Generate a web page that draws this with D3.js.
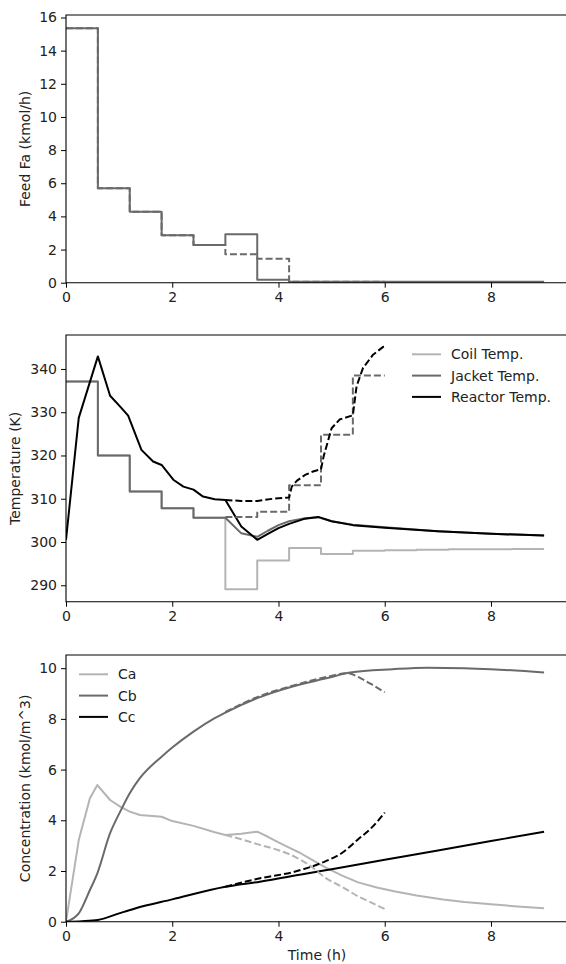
<!DOCTYPE html>
<html>
<head>
<meta charset="utf-8">
<script src="https://cdn.jsdelivr.net/npm/d3@7"></script>
<style>
  body { margin: 0; background: #fff; }
  text { font-family: "DejaVu Sans", sans-serif; fill: #222; }
</style>
</head>
<body>
<div id="chart"></div>
<script>
// ---- data ----
var xTicks = [0, 2, 4, 6, 8];

// feed (top panel), step values
var feedSolidT = [0, 0.6, 1.2, 1.8, 2.4, 3.0, 3.6, 4.2, 9.0];
var feedSolid  = [15.35, 5.7, 4.28, 2.87, 2.27, 2.92, 0.18, 0.06, 0.06];
var feedDashT  = [0, 0.6, 1.2, 1.8, 2.4, 3.0, 3.6, 4.2, 6.0];
var feedDash   = [15.35, 5.7, 4.28, 2.87, 2.27, 1.71, 1.45, 0.06, 0.06];
var feedTicks  = [0, 2, 4, 6, 8, 10, 12, 14, 16];

// temperatures (middle panel)
var coilT = [0, 0.6, 1.2, 1.8, 2.4, 3.0, 3.6, 4.2, 4.8, 5.4, 6.0, 6.6, 7.2, 7.8, 8.4, 9.0];
var coil  = [337.1, 320, 311.7, 307.8, 305.6, 289.1, 295.7, 298.6, 297.2, 298.0, 298.1, 298.2, 298.3, 298.3, 298.4, 298.4];
var jacketT = [0, 0.6, 0.6, 1.2, 1.2, 1.8, 1.8, 2.4, 2.4, 3.0, 3.3, 3.6, 3.8, 4.0, 4.2, 4.5, 4.75, 5.0, 5.4, 6.0, 7.0, 8.0, 9.0];
var jacket  = [337.1, 337.1, 320, 320, 311.7, 311.7, 307.8, 307.8, 305.6, 305.6, 302.0, 301.2, 302.6, 303.9, 304.8, 305.5, 305.7, 304.8, 304.0, 303.4, 302.5, 301.9, 301.5];
var reactorT = [0, 0.24, 0.6, 0.83, 1.02, 1.17, 1.42, 1.64, 1.8, 2.02, 2.21, 2.4, 2.58, 2.8, 3.0, 3.3, 3.6, 3.8, 4.0, 4.2, 4.5, 4.75, 5.0, 5.4, 6.0, 7.0, 8.0, 9.0];
var reactor  = [300.5, 328.7, 342.9, 333.8, 331.3, 329.2, 321.3, 318.6, 317.8, 314.4, 312.8, 312.1, 310.5, 309.9, 309.7, 303.6, 300.5, 301.9, 303.2, 304.2, 305.4, 305.8, 304.8, 303.9, 303.3, 302.5, 301.9, 301.5];
var jacketDashT = [3.0, 3.6, 3.6, 4.2, 4.2, 4.8, 4.8, 5.4, 5.4, 6.0];
var jacketDash  = [305.8, 305.8, 307.0, 307.0, 313.1, 313.1, 324.8, 324.8, 338.5, 338.5];
var reactorDashT = [3.0, 3.3, 3.6, 3.9, 4.2, 4.25, 4.35, 4.5, 4.65, 4.8, 4.85, 5.0, 5.15, 5.4, 5.47, 5.59, 5.78, 5.97, 6.0];
var reactorDash  = [309.7, 309.5, 309.5, 310.0, 310.3, 312.8, 314.2, 315.5, 316.3, 316.8, 319.8, 326.3, 328.3, 329.3, 336.0, 340.2, 343.3, 345.1, 345.2];
var tempTicks = [290, 300, 310, 320, 330, 340];
var tempNames = ["Coil Temp.", "Jacket Temp.", "Reactor Temp."];

// concentrations (bottom panel)
var caT = [0, 0.24, 0.45, 0.59, 0.83, 1.02, 1.2, 1.39, 1.8, 2.0, 2.4, 2.8, 3.0, 3.3, 3.6, 3.8, 4.0, 4.2, 4.4, 4.65, 4.9, 5.2, 5.5, 5.85, 6.2, 6.6, 7.1, 7.5, 8.0, 8.5, 9.0];
var ca  = [0, 3.22, 4.87, 5.39, 4.8, 4.54, 4.34, 4.21, 4.14, 3.97, 3.78, 3.53, 3.42, 3.47, 3.55, 3.35, 3.13, 2.92, 2.72, 2.42, 2.12, 1.82, 1.55, 1.35, 1.19, 1.03, 0.88, 0.78, 0.69, 0.6, 0.53];
var caDashT = [3.0, 3.3, 3.65, 4.0, 4.3, 4.6, 4.9, 5.2, 5.5, 5.75, 6.0];
var caDash  = [3.42, 3.25, 3.03, 2.82, 2.57, 2.2, 1.71, 1.37, 1.0, 0.75, 0.5];
var cbT = [0, 0.24, 0.45, 0.59, 0.83, 1.02, 1.2, 1.39, 1.8, 2.0, 2.4, 2.8, 3.0, 3.6, 4.3, 4.9, 5.35, 6.15, 6.8, 7.5, 8.0, 9.0];
var cb  = [0, 0.33, 1.25, 1.91, 3.49, 4.34, 5.07, 5.66, 6.51, 6.87, 7.5, 8.03, 8.25, 8.82, 9.3, 9.6, 9.83, 9.96, 10.02, 10.0, 9.96, 9.83];
var cbDashT = [3.0, 3.6, 4.3, 4.9, 5.3, 5.55, 5.8, 6.0];
var cbDash  = [8.27, 8.86, 9.33, 9.65, 9.8, 9.6, 9.3, 9.05];
var ccT = [0, 0.3, 0.6, 1.0, 1.3, 2.0, 3.0, 3.65, 4.4, 5.0, 6.0, 7.0, 8.0, 9.0];
var cc  = [0, 0.02, 0.07, 0.33, 0.52, 0.88, 1.38, 1.58, 1.85, 2.07, 2.44, 2.81, 3.18, 3.55];
var ccDashT = [3.0, 3.65, 4.3, 4.9, 5.2, 5.5, 5.75, 6.0];
var ccDash  = [1.38, 1.71, 1.97, 2.4, 2.72, 3.25, 3.7, 4.3];
var concTicks = [0, 2, 4, 6, 8, 10];
var concNames = ["Ca", "Cb", "Cc"];

// ---- layout ----
var width = 566, height = 964;
var light = "#b4b4b4", mid = "#6a6a6a", dark = "#000";
var lw = 2, dash = "7,3", fs = "14px";

var svg = d3.select("#chart").append("svg")
  .attr("width", width)
  .attr("height", height);

var x = d3.scaleLinear().domain([0, 9.45]).range([66, 568]);

function zip(t, v) { return t.map(function(d, i) { return [d, v[i]]; }); }

function panel(top, bottom, ydomain, yticks, ylabel, labelX, showXLabel) {
  var y = d3.scaleLinear().domain(ydomain).range([bottom, top]);
  var g = svg.append("g");

  var clip = "clip" + Math.round(top);
  svg.append("clipPath").attr("id", clip)
    .append("rect").attr("x", 66).attr("y", top).attr("width", 502).attr("height", bottom - top);
  var plot = g.append("g").attr("clip-path", "url(#" + clip + ")");

  var xAxis = g.append("g")
    .attr("transform", "translate(0," + bottom + ")")
    .call(d3.axisBottom(x).tickValues(xTicks).tickSize(5).tickPadding(4).tickFormat(d3.format("d")));
  var yAxis = g.append("g")
    .attr("transform", "translate(66,0)")
    .call(d3.axisLeft(y).tickValues(yticks).tickSize(5).tickPadding(4).tickFormat(d3.format("d")));
  [xAxis, yAxis].forEach(function(a) {
    a.select(".domain").remove();
    a.selectAll("line").attr("stroke", "#000").attr("stroke-width", 1);
    a.selectAll("text").style("font-size", fs).style("font-family", "DejaVu Sans, sans-serif").attr("fill", "#222");
  });

  // frame (right side falls off the picture)
  g.append("path")
    .attr("d", "M570," + top + "H66V" + bottom + "H570")
    .attr("fill", "none").attr("stroke", "#000").attr("stroke-width", 1.1);

  g.append("text")
    .attr("transform", "translate(" + labelX + "," + ((top + bottom) / 2) + ") rotate(-90)")
    .attr("text-anchor", "middle")
    .attr("dy", "0.35em")
    .style("font-size", fs)
    .text(ylabel);

  if (showXLabel) {
    g.append("text")
      .attr("x", 317).attr("y", 960)
      .attr("text-anchor", "middle")
      .style("font-size", fs)
      .text("Time (h)");
  }
  return { y: y, plot: plot, g: g };
}

function drawLine(p, pts, color, dashed, curve) {
  var line = d3.line()
    .x(function(d) { return x(d[0]); })
    .y(function(d) { return p.y(d[1]); })
    .curve(curve || d3.curveLinear);
  p.plot.append("path")
    .datum(pts)
    .attr("d", line)
    .attr("fill", "none")
    .attr("stroke", color)
    .attr("stroke-width", lw)
    .attr("stroke-linejoin", "round")
    .attr("stroke-dasharray", dashed ? dash : null);
}

function legend(p, names, colors, lx, ly) {
  names.forEach(function(n, i) {
    var yy = ly + i * 21.3;
    p.g.append("line")
      .attr("x1", lx).attr("x2", lx + 29)
      .attr("y1", yy).attr("y2", yy)
      .attr("stroke", colors[i]).attr("stroke-width", lw);
    p.g.append("text")
      .attr("x", lx + 39).attr("y", yy)
      .attr("dy", "0.35em")
      .style("font-size", fs)
      .text(n);
  });
}

var smooth = d3.curveMonotoneX;

// top: feed
var p1 = panel(15, 282.7, [0, 16.15], feedTicks, "Feed Fa (kmol/h)", 25, false);
drawLine(p1, zip(feedDashT, feedDash), mid, true, d3.curveStepAfter);
drawLine(p1, zip(feedSolidT, feedSolid), mid, false, d3.curveStepAfter);

// middle: temperatures
var p2 = panel(335, 601.7, [286.2, 347.85], tempTicks, "Temperature (K)", 15, false);
drawLine(p2, zip(coilT, coil), light, false, d3.curveStepAfter);
drawLine(p2, zip(jacketT, jacket), mid, false);
drawLine(p2, zip(reactorT, reactor), dark, false);
drawLine(p2, zip(jacketDashT, jacketDash), mid, true);
drawLine(p2, zip(reactorDashT, reactorDash), dark, true);
legend(p2, tempNames, [light, mid, dark], 412, 354.3);

// bottom: concentrations
var p3 = panel(655, 921.7, [0, 10.52], concTicks, "Concentration (kmol/m^3)", 25, true);
drawLine(p3, zip(caT, ca), light, false);
drawLine(p3, zip(cbT, cb), mid, false, smooth);
drawLine(p3, zip(ccT, cc), dark, false, smooth);
drawLine(p3, zip(caDashT, caDash), light, true, smooth);
drawLine(p3, zip(cbDashT, cbDash), mid, true, smooth);
drawLine(p3, zip(ccDashT, ccDash), dark, true, smooth);
legend(p3, concNames, [light, mid, dark], 79, 674.3);
</script>
</body>
</html>
